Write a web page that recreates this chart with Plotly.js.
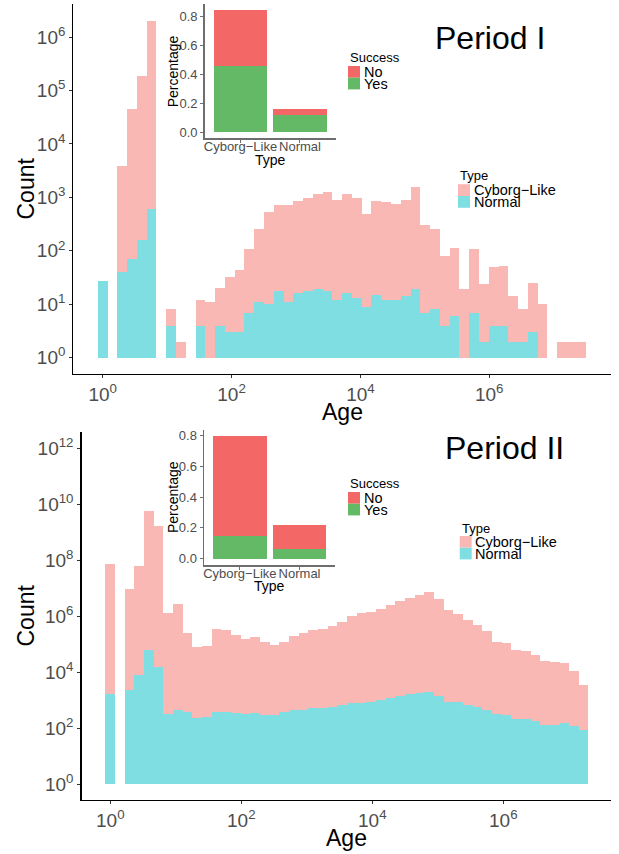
<!DOCTYPE html>
<html>
<head>
<meta charset="utf-8">
<script src="https://cdn.plot.ly/plotly-3.0.1.min.js"></script>
<style>
  html, body { margin: 0; padding: 0; background: #fff; }
  #chart { width: 619px; height: 854px; }
</style>
</head>
<body>
<div id="chart"></div>
<script>
// ---------------- DATA ----------------
// Histogram bins: 50 equal bins of log10(Age); first bin centred at Age = 10^0.
const p1BinStart = 0;        // log10 of first bin centre (Period I)
const p1BinStep = 0.1517;    // bin width in log10 units (Period I)
const p2BinStart = 0;        // Period II
const p2BinStep = 0.1475;

// Period I counts per bin (Normal) and top of stacked Cyborg-Like bar (as read on log axis)
const p1Normal = [27,0,41,71,162,617,0,4,0,0,4,0,4,3,3,7,11,10,18,11,16,18,19,18,12,16,13,9,15,12,12,14,19,7,8,4,6,0,7,2,4,4,2,2,3,0,0,0,0,0];
const p1CyborgTop = [27,0,3800,44700,190000,2040000,1,8,2,1,12,11,20,32,44,107,257,537,724,724,871,955,1148,1288,912,1148,955,490,871,832,741,912,1585,309,257,81,115,19,107,24,49,52,14,8,25,10,1,2,2,2];

// Period II
const p2Normal = [1700,0,2240,7940,60300,15800,324,427,363,229,251,380,389,339,324,339,302,302,363,437,447,525,525,589,676,794,794,891,977,1202,1445,1698,1820,1995,1445,891,832,676,562,447,324,288,209,214,182,132,132,148,115,85];
const p2CyborgTop = [7.6e7,0,9.5e6,6.0e7,5.75e9,1.66e9,1.32e6,2.75e6,2.5e5,7.9e4,8.5e4,3.47e5,3.24e5,2.14e5,1.51e5,1.82e5,1.15e5,9.3e4,1.2e5,1.95e5,2.5e5,3.24e5,3.47e5,4.47e5,6.3e5,1.02e6,1.32e6,1.45e6,1.82e6,2.57e6,3.55e6,4.57e6,5.89e6,7.59e6,4.17e6,1.7e6,1.2e6,7.4e5,4.9e5,2.95e5,1.2e5,1.1e5,6.17e4,5.62e4,4.07e4,2.45e4,2.29e4,2.09e4,1.07e4,3.4e3];

// Inset: success percentage by type
const insetTypes = ['Cyborg\u2212Like', 'Normal'];
const p1Yes = [0.461, 0.120];
const p1No  = [0.385, 0.041];
const p2Yes = [0.148, 0.065];
const p2No  = [0.646, 0.154];

// Tick labels
const p1YTickExp = [0,1,2,3,4,5,6];
const p2YTickExp = [0,2,4,6,8,10,12];
const xTickExp = [0,2,4,6];
const legendTypeLabels = ['Cyborg\u2212Like', 'Normal'];
const legendSuccessLabels = ['No', 'Yes'];

// ---------------- STYLE ----------------
const W = 619, H = 854;
const FONT = 'Liberation Sans, Arial, Helvetica, sans-serif';
const PINK = '#FAB8B5', CYAN = '#7FDEE1', RED = '#F36767', GREEN = '#64B966';
const px = x => x / W;
const py = y => 1 - y / H;
const lg = v => (v > 0 ? Math.log10(v) : null);
const powLabel = e => '10<sup>' + e + '</sup>';

function histTraces(normal, top, start, step, xa, ya) {
  return [
    { type: 'bar', x0: start, dx: step, y: top.map(lg), marker: { color: PINK, line: { width: 0 } },
      xaxis: xa, yaxis: ya, showlegend: false, hoverinfo: 'skip' },
    { type: 'bar', x0: start, dx: step, y: normal.map(lg), marker: { color: CYAN, line: { width: 0 } },
      xaxis: xa, yaxis: ya, showlegend: false, hoverinfo: 'skip' }
  ];
}
function insetTraces(yes, no, xa, ya) {
  return [
    { type: 'bar', x: insetTypes, y: yes, width: 0.9, marker: { color: GREEN, line: { width: 0 } },
      xaxis: xa, yaxis: ya, showlegend: false, hoverinfo: 'skip' },
    { type: 'bar', x: insetTypes, y: no, base: yes, width: 0.9, marker: { color: RED, line: { width: 0 } },
      xaxis: xa, yaxis: ya, showlegend: false, hoverinfo: 'skip' }
  ];
}

const data = [
  ...histTraces(p1Normal, p1CyborgTop, p1BinStart, p1BinStep, 'x', 'y'),
  ...histTraces(p2Normal, p2CyborgTop, p2BinStart, p2BinStep, 'x2', 'y2'),
  ...insetTraces(p1Yes, p1No, 'x3', 'y3'),
  ...insetTraces(p2Yes, p2No, 'x4', 'y4')
];

const tickFont = { family: FONT, size: 19, color: '#4d4d4d' };
function mainX(domain, range, anchor) {
  return { domain, range, anchor, type: 'linear', showgrid: false, zeroline: false,
    showline: true, linecolor: '#000', linewidth: 1.2, ticks: 'outside', ticklen: 3, tickcolor: '#333',
    tickmode: 'array', tickvals: xTickExp, ticktext: xTickExp.map(powLabel), tickfont: tickFont, tickangle: 0 };
}
function mainY(domain, range, anchor, exps) {
  return { domain, range, anchor, type: 'linear', showgrid: false, zeroline: false,
    showline: true, linecolor: '#000', linewidth: 1.2, ticks: 'outside', ticklen: 3, tickcolor: '#333',
    tickmode: 'array', tickvals: exps, ticktext: exps.map(powLabel), tickfont: tickFont };
}
const insetTickFont = { family: FONT, size: 13, color: '#4d4d4d' };
function insetX(domain, anchor) {
  return { domain, anchor, type: 'category', range: [-0.6, 1.6], showgrid: false, zeroline: false,
    showline: true, linecolor: '#6e6e6e', linewidth: 1.5, ticks: 'outside', ticklen: 3, tickcolor: '#6e6e6e',
    tickfont: insetTickFont, tickangle: 0, ticklabelstandoff: -7 };
}
function insetY(domain, range, anchor) {
  return { domain, range, anchor, showgrid: false, zeroline: false,
    showline: true, linecolor: '#6e6e6e', linewidth: 1.5, ticks: 'outside', ticklen: 3, tickcolor: '#6e6e6e',
    tickmode: 'array', tickvals: [0, 0.2, 0.4, 0.6, 0.8], tickformat: '.1f', tickfont: insetTickFont };
}

const layout = {
  width: W, height: H,
  margin: { l: 0, r: 0, t: 0, b: 0 },
  paper_bgcolor: '#fff', plot_bgcolor: 'rgba(0,0,0,0)',
  barmode: 'overlay', bargap: 0,
  font: { family: FONT },
  xaxis:  mainX([px(73.4), px(611)], [-0.455, 7.89], 'y'),
  yaxis:  mainY([py(374), py(4)], [-0.305, 6.62], 'x', p1YTickExp),
  xaxis2: mainX([px(81.5), px(611)], [-0.44, 7.645], 'y2'),
  yaxis2: mainY([py(800), py(431.5)], [-0.57, 12.6], 'x2', p2YTickExp),
  xaxis3: insetX([px(204.7), px(335.7)], 'y3'),
  yaxis3: insetY([py(138), py(4)], [-0.04, 0.888], 'x3'),
  xaxis4: insetX([px(204), px(335.4)], 'y4'),
  yaxis4: insetY([py(565), py(430)], [-0.04, 0.834], 'x4'),
  annotations: [], shapes: []
};

function ann(text, x, y, size, opts) {
  layout.annotations.push(Object.assign({
    text, x: px(x), y: py(y), xref: 'paper', yref: 'paper', showarrow: false,
    xanchor: 'center', yanchor: 'middle', font: { family: FONT, size, color: '#000' }
  }, opts || {}));
}
function rect(x0, y0, x1, y1, color) {
  layout.shapes.push({ type: 'rect', xref: 'paper', yref: 'paper', x0: px(x0), x1: px(x1), y0: py(y1), y1: py(y0),
    fillcolor: color, line: { width: 0 } });
}

// Titles
ann('Period I', 433, 38, 32, { xanchor: 'left' });
ann('Period II', 443, 448, 32, { xanchor: 'left' });
// Axis titles
ann('Count', 25.5, 189, 23, { textangle: -90 });
ann('Age', 342, 411.5, 23);
ann('Count', 25.5, 616, 23, { textangle: -90 });
ann('Age', 346, 838, 23);
// Inset titles
ann('Percentage', 173.3, 71, 14, { textangle: -90 });
ann('Type', 270.2, 160, 14);
ann('Percentage', 172.5, 497.5, 14, { textangle: -90 });
ann('Type', 269.7, 586, 14);

// Legends
function legend(title, labels, colors, x, titleY, keyTop, keyH) {
  ann(title, x, titleY, 13, { xanchor: 'left' });
  labels.forEach((lab, i) => {
    const y0 = keyTop + i * keyH;
    rect(x, y0, x + 12, y0 + keyH, colors[i]);
    ann(lab, x + 13.5, y0 + keyH / 2, 14.5, { xanchor: 'left' });
  });
}
legend('Success', legendSuccessLabels, [RED, GREEN], 348, 58, 66, 11.7);
legend('Type', legendTypeLabels, [PINK, CYAN], 458, 175.5, 184.2, 11.8);
legend('Success', legendSuccessLabels, [RED, GREEN], 348, 483.3, 492, 11.7);
legend('Type', legendTypeLabels, [PINK, CYAN], 459.7, 528.3, 536, 11.7);

Plotly.newPlot('chart', data, layout, { displayModeBar: false, staticPlot: true });
</script>
</body>
</html>
